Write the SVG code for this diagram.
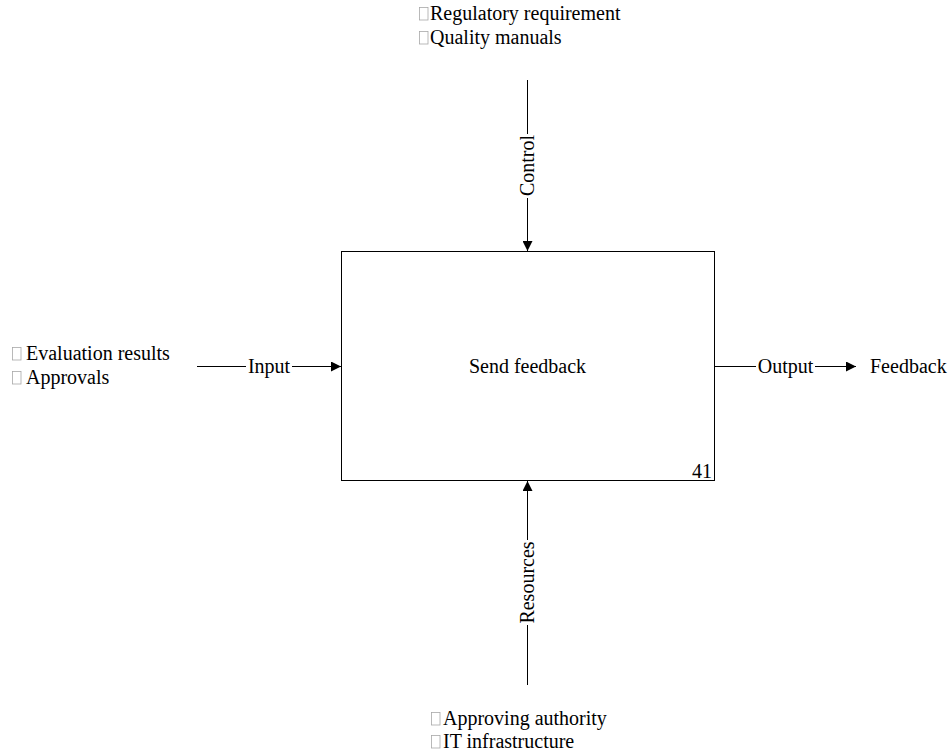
<svg xmlns="http://www.w3.org/2000/svg" width="951" height="752" viewBox="0 0 951 752">
  <style>
    text { font-family: "Liberation Serif", "Times New Roman", serif; font-size: 20px; fill: #000; }
    .mid { text-anchor: middle; }
    .end { text-anchor: end; }
    .bullet { font-size: 12px; }
    .wire { stroke: #000; stroke-width: 1; fill: none; }
    .gap { fill: #fff; }
    .tofu { fill: none; stroke: #a8a8a8; stroke-width: 0.8; }
  </style>
  <defs>
    <marker id="head" viewBox="0 0 10 10" refX="10" refY="5" markerWidth="10" markerHeight="10" markerUnits="userSpaceOnUse" orient="auto">
      <path d="M0,0 L10,5 L0,10 z" fill="#000"/>
    </marker>
  </defs>

  <!-- activity box -->
  <g id="activity">
    <rect x="341.5" y="251.5" width="373" height="229" fill="#fff" stroke="#000" stroke-width="1"/>
    <text class="mid" x="527.5" y="373">Send feedback</text>
    <text class="end" x="712" y="478">41</text>
  </g>

  <!-- ICOM connectors -->
  <g id="connectors">
    <line class="wire" x1="527.5" y1="80" x2="527.5" y2="251" marker-end="url(#head)"/>
    <line class="wire" x1="527.5" y1="685" x2="527.5" y2="481" marker-end="url(#head)"/>
    <line class="wire" x1="197" y1="366.5" x2="341" y2="366.5" marker-end="url(#head)"/>
    <line class="wire" x1="715" y1="366.5" x2="856" y2="366.5" marker-end="url(#head)"/>

    <g id="label-control">
      <rect class="gap" x="519" y="134" width="17" height="64"/>
      <text class="mid" transform="translate(534,165.5) rotate(-90)">Control</text>
    </g>
    <g id="label-resources">
      <rect class="gap" x="519" y="540" width="17" height="85"/>
      <text class="mid" transform="translate(534,582.5) rotate(-90)">Resources</text>
    </g>
    <g id="label-input">
      <rect class="gap" x="246" y="356" width="46" height="20"/>
      <text class="mid" x="269" y="373">Input</text>
    </g>
    <g id="label-output">
      <rect class="gap" x="756" y="356" width="59" height="20"/>
      <text class="mid" x="785.5" y="373">Output</text>
    </g>
  </g>

  <!-- entity lists; the bullet glyph is missing from the font and shows as a box -->
  <g id="controls">
    <rect class="tofu" x="419.5" y="7.5" width="8.5" height="12.5"/>
    <rect class="tofu" x="419.5" y="31.5" width="8.5" height="12.5"/>
    <text x="419" y="20"><tspan class="bullet">&#xF0A7;</tspan><tspan x="430">Regulatory requirement</tspan></text>
    <text x="419" y="44"><tspan class="bullet">&#xF0A7;</tspan><tspan x="430">Quality manuals</tspan></text>
  </g>
  <g id="inputs">
    <rect class="tofu" x="12.5" y="347.5" width="8.5" height="12.5"/>
    <rect class="tofu" x="12.5" y="371.5" width="8.5" height="12.5"/>
    <text x="12" y="360"><tspan class="bullet">&#xF0A7;</tspan><tspan x="26">Evaluation results</tspan></text>
    <text x="12" y="384"><tspan class="bullet">&#xF0A7;</tspan><tspan x="26">Approvals</tspan></text>
  </g>
  <g id="outputs">
    <text x="870" y="373">Feedback</text>
  </g>
  <g id="mechanisms">
    <rect class="tofu" x="431.5" y="712.5" width="8.5" height="12.5"/>
    <rect class="tofu" x="431.5" y="735.5" width="8.5" height="12.5"/>
    <text x="431" y="725"><tspan class="bullet">&#xF0A7;</tspan><tspan x="443">Approving authority</tspan></text>
    <text x="431" y="748"><tspan class="bullet">&#xF0A7;</tspan><tspan x="443">IT infrastructure</tspan></text>
  </g>
</svg>
